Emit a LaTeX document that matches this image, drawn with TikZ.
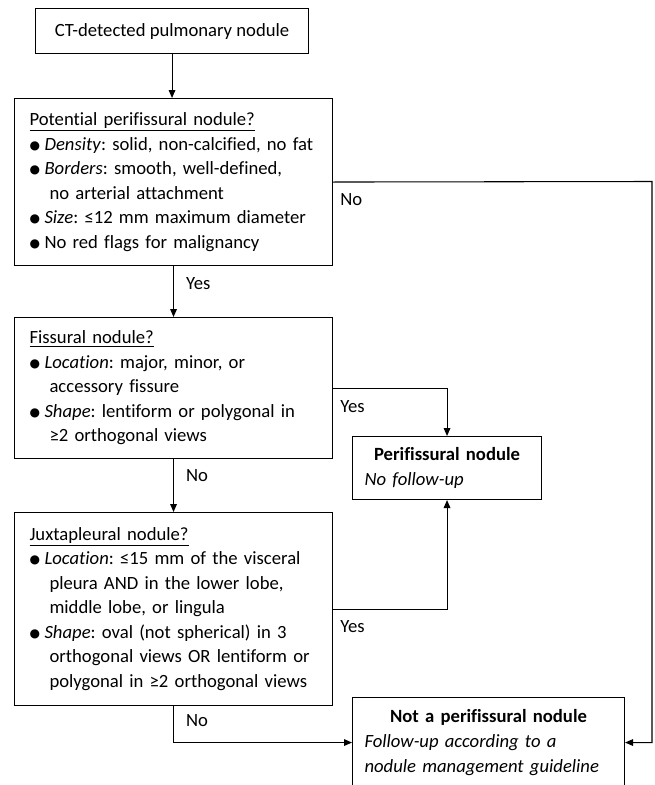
\documentclass[tikz,border=0pt]{standalone}
\usepackage{fontspec}
\setmainfont{Carlito}[Ligatures={NoCommon,NoContextual}]
\newfontfamily\dejavu{DejaVu Sans}
\usetikzlibrary{arrows.meta, positioning}

\newcommand{\itm}{\makebox[11.25pt][l]{\raisebox{0.8pt}{\dejavu\fontsize{9}{9}\selectfont ●}}}
\newcommand{\cnt}{\hspace*{15pt}}

\begin{document}
\frenchspacing
\begin{tikzpicture}[x=0.75pt, y=-0.75pt, >={Triangle[length=6pt,width=5pt]},
    font=\fontsize{14}{18.4}\selectfont,
    box/.style={draw, line width=0.8pt, anchor=north west, inner sep=0pt},
    qbox/.style={box, align=left, inner xsep=11.25pt, text width=216pt},
    rbox/.style={box, align=left, inner xsep=9pt},
    link/.style={line width=0.8pt, ->},
    lbl/.style={inner sep=0pt, anchor=west}]
  \useasboundingbox (0,0) rectangle (654,785);
  \clip (0,0) rectangle (654,785);
  % Start
  \node[box, minimum width=204.75pt, minimum height=33.75pt] (start) at (35,8)
    {CT-detected pulmonary nodule};
  % Questions
  \node[qbox, minimum height=125.25pt] (q1) at (14,98) {%
    \underline{Potential perifissural nodule?}\\
    \itm\textit{Density}: solid, non-calcified, no fat\\
    \itm\textit{Borders}: smooth, well-defined,\\
    \cnt no arterial attachment\\
    \itm\textit{Size}: ≤12 mm maximum diameter\\
    \itm No red flags for malignancy};
  \node[qbox, minimum height=105.75pt] (q2) at (14,317) {%
    \underline{Fissural nodule?}\\
    \itm\textit{Location}: major, minor, or\\
    \cnt accessory fissure\\
    \itm\textit{Shape}: lentiform or polygonal in\\
    \cnt ≥2 orthogonal views};
  \node[qbox, minimum height=144.75pt] (q3) at (14,512) {%
    \underline{Juxtapleural nodule?}\\
    \itm\textit{Location}: ≤15 mm of the visceral\\
    \cnt pleura AND in the lower lobe,\\
    \cnt middle lobe, or lingula\\
    \itm\textit{Shape}: oval (not spherical) in 3\\
    \cnt orthogonal views OR lentiform or\\
    \cnt polygonal in ≥2 orthogonal views};
  % Outcomes
  \node[rbox, text width=123.75pt, minimum height=47.25pt] (peri) at (352,436) {%
    \makebox[\hsize][c]{\textbf{Perifissural nodule}}\\
    \textit{No follow-up}};
  \node[rbox, text width=186pt, minimum height=67.5pt] (notp) at (352,697) {%
    \makebox[\hsize][c]{\textbf{Not a perifissural nodule}}\\
    \textit{Follow-up according to a}\\
    \textit{nodule management guideline}};
  \coordinate (rgt) at (652,181.5);
  % Connectors
  \draw[link] (start.south) -- (start.south |- q1.north);
  \draw[link] (q1.south) -- (q2.north)
    node[lbl, pos=0.34, right=9pt] (yes1) {Yes};
  \draw[link] (q2.south) -- (q3.north)
    node[lbl, pos=0.31, right=9pt] (no2) {No};
  \draw[link] (q3.south) |- (notp.west)
    node[lbl, pos=0.2, right=9pt] (no3) {No};
  \draw[link] (q2.east) -| (peri.north);
  \draw[link] (q3.east) -| (peri.south);
  \draw[link] (q1.east) -- (rgt) |- (notp.east);
  % Side labels
  \node[lbl] (no1) at (340,200) {No};
  \node[lbl] (yes2) at (340,407) {Yes};
  \node[lbl] (yes3) at (340,627) {Yes};
\end{tikzpicture}
\end{document}
